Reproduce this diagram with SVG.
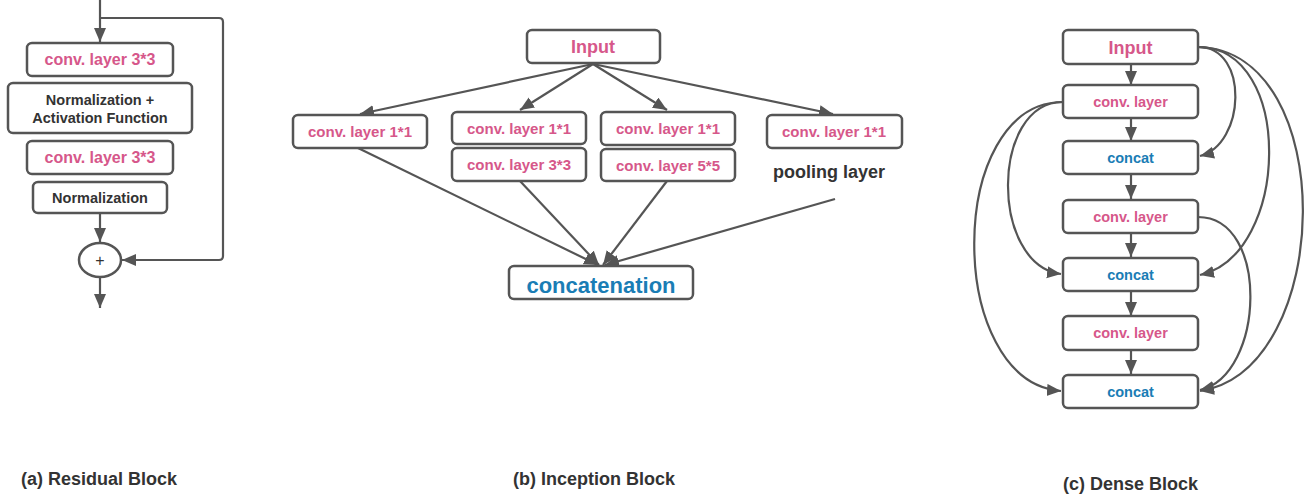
<svg xmlns="http://www.w3.org/2000/svg" width="1306" height="497" viewBox="0 0 1306 497">
<defs>
<marker id="ah" markerUnits="userSpaceOnUse" markerWidth="16" markerHeight="14" refX="14" refY="6" orient="auto">
<path d="M0,0 L14,6 L0,12 z" fill="#555"/>
</marker>
<style>
.box{fill:#fff;stroke:#555;stroke-width:2.5}
.ln{fill:none;stroke:#555;stroke-width:2.2}
.pk{fill:#d6578a;font-family:"Liberation Sans",Arial,sans-serif;font-weight:bold;text-anchor:middle}
.bl{fill:#1a7db5;font-family:"Liberation Sans",Arial,sans-serif;font-weight:bold;text-anchor:middle}
.dk{fill:#333;font-family:"Liberation Sans",Arial,sans-serif;font-weight:bold;text-anchor:middle}
.cap{fill:#333;font-family:"Liberation Sans",Arial,sans-serif;font-weight:bold;font-size:18px}
</style>
</defs>
<rect width="1306" height="497" fill="#fff"/>

<g id="connectors">
<path class="ln" d="M100,0 L100,42" marker-end="url(#ah)"/>
<path class="ln" d="M100,18 L219,18 Q223,18 223,22 L223,256 Q223,260 219,260 L122,260" marker-end="url(#ah)"/>
<path class="ln" d="M100,213 L100,242" marker-end="url(#ah)"/>
<path class="ln" d="M100,277 L100,308" marker-end="url(#ah)"/>
<path class="ln" d="M593,64 L360,114" marker-end="url(#ah)"/>
<path class="ln" d="M593,64 L520,110" marker-end="url(#ah)"/>
<path class="ln" d="M593,64 L667,110" marker-end="url(#ah)"/>
<path class="ln" d="M593,64 L833,114" marker-end="url(#ah)"/>
<path class="ln" d="M358,148 L598,265" marker-end="url(#ah)"/>
<path class="ln" d="M520,181 L599,265" marker-end="url(#ah)"/>
<path class="ln" d="M667,181 L603,265" marker-end="url(#ah)"/>
<path class="ln" d="M835,199 L605,265" marker-end="url(#ah)"/>
<path class="ln" d="M1131,64 L1131,85" marker-end="url(#ah)"/>
<path class="ln" d="M1131,118 L1131,141" marker-end="url(#ah)"/>
<path class="ln" d="M1131,174 L1131,199" marker-end="url(#ah)"/>
<path class="ln" d="M1131,233 L1131,257" marker-end="url(#ah)"/>
<path class="ln" d="M1131,291 L1131,316" marker-end="url(#ah)"/>
<path class="ln" d="M1131,350 L1131,374" marker-end="url(#ah)"/>
<path class="ln" d="M1198,47 C1250,47 1245,145 1200,156" marker-end="url(#ah)"/>
<path class="ln" d="M1198,47 C1295,47 1290,255 1200,275" marker-end="url(#ah)"/>
<path class="ln" d="M1198,47 C1340,50 1335,370 1200,391" marker-end="url(#ah)"/>
<path class="ln" d="M1198,217 C1270,217 1265,375 1200,390" marker-end="url(#ah)"/>
<path class="ln" d="M1063,102 C990,102 990,265 1061,274" marker-end="url(#ah)"/>
<path class="ln" d="M1063,102 C945,102 945,382 1061,391" marker-end="url(#ah)"/>
</g>

<g id="res-conv1"><rect class="box" x="27" y="43" width="146" height="33" rx="5"/><text class="pk" x="100" y="65" font-size="16">conv. layer 3*3</text></g>
<g id="res-norm-act"><rect class="box" x="8" y="83" width="184" height="50" rx="5"/><text class="dk" x="100" y="105" font-size="14.5">Normalization +</text><text class="dk" x="100" y="123" font-size="14.5">Activation Function</text></g>
<g id="res-conv2"><rect class="box" x="27" y="141" width="146" height="33" rx="5"/><text class="pk" x="100" y="163" font-size="16">conv. layer 3*3</text></g>
<g id="res-norm"><rect class="box" x="33" y="182" width="134" height="31" rx="5"/><text class="dk" x="100" y="203" font-size="14.5">Normalization</text></g>
<g id="res-add"><ellipse class="box" cx="100" cy="260" rx="21" ry="17"/><text x="100" y="265.5" font-size="16" fill="#333" font-family="Liberation Sans,Arial,sans-serif" text-anchor="middle">+</text></g>

<g id="inc-input"><rect class="box" x="527" y="30" width="133" height="33" rx="5"/><text class="pk" x="593" y="53" font-size="18">Input</text></g>
<g id="inc-b1"><rect class="box" x="293" y="115" width="134" height="33" rx="5"/><text class="pk" x="360" y="137" font-size="15">conv. layer 1*1</text></g>
<g id="inc-b2a"><rect class="box" x="452" y="112" width="134" height="32" rx="5"/><text class="pk" x="519" y="134" font-size="15">conv. layer 1*1</text></g>
<g id="inc-b2b"><rect class="box" x="452" y="148" width="134" height="33" rx="5"/><text class="pk" x="519" y="170" font-size="15">conv. layer 3*3</text></g>
<g id="inc-b3a"><rect class="box" x="601" y="112" width="134" height="33" rx="5"/><text class="pk" x="668" y="134" font-size="15">conv. layer 1*1</text></g>
<g id="inc-b3b"><rect class="box" x="601" y="149" width="134" height="32" rx="5"/><text class="pk" x="668" y="171" font-size="15">conv. layer 5*5</text></g>
<g id="inc-b4"><rect class="box" x="767" y="115" width="135" height="33" rx="5"/><text class="pk" x="834" y="137" font-size="15">conv. layer 1*1</text></g>
<g id="inc-pool"><text class="dk" x="829" y="178" font-size="18">pooling layer</text></g>
<g id="inc-concat"><rect class="box" x="509" y="266" width="184" height="33" rx="5"/><text class="bl" x="601" y="293" font-size="22">concatenation</text></g>

<g id="d-input"><rect class="box" x="1063" y="30" width="135" height="34" rx="5"/><text class="pk" x="1130.5" y="54" font-size="18">Input</text></g>
<g id="d-conv1"><rect class="box" x="1063" y="85" width="135" height="33" rx="5"/><text class="pk" x="1130.5" y="107" font-size="14.5">conv. layer</text></g>
<g id="d-concat1"><rect class="box" x="1063" y="141" width="135" height="33" rx="5"/><text class="bl" x="1130.5" y="163" font-size="14.5">concat</text></g>
<g id="d-conv2"><rect class="box" x="1063" y="200" width="135" height="33" rx="5"/><text class="pk" x="1130.5" y="222" font-size="14.5">conv. layer</text></g>
<g id="d-concat2"><rect class="box" x="1063" y="258" width="135" height="33" rx="5"/><text class="bl" x="1130.5" y="280" font-size="14.5">concat</text></g>
<g id="d-conv3"><rect class="box" x="1063" y="316" width="135" height="34" rx="5"/><text class="pk" x="1130.5" y="338" font-size="14.5">conv. layer</text></g>
<g id="d-concat3"><rect class="box" x="1063" y="375" width="135" height="33" rx="5"/><text class="bl" x="1130.5" y="397" font-size="14.5">concat</text></g>

<text class="cap" x="21" y="485">(a) Residual Block</text>
<text class="cap" x="513" y="485">(b) Inception Block</text>
<text class="cap" x="1063" y="490">(c) Dense Block</text>
</svg>
